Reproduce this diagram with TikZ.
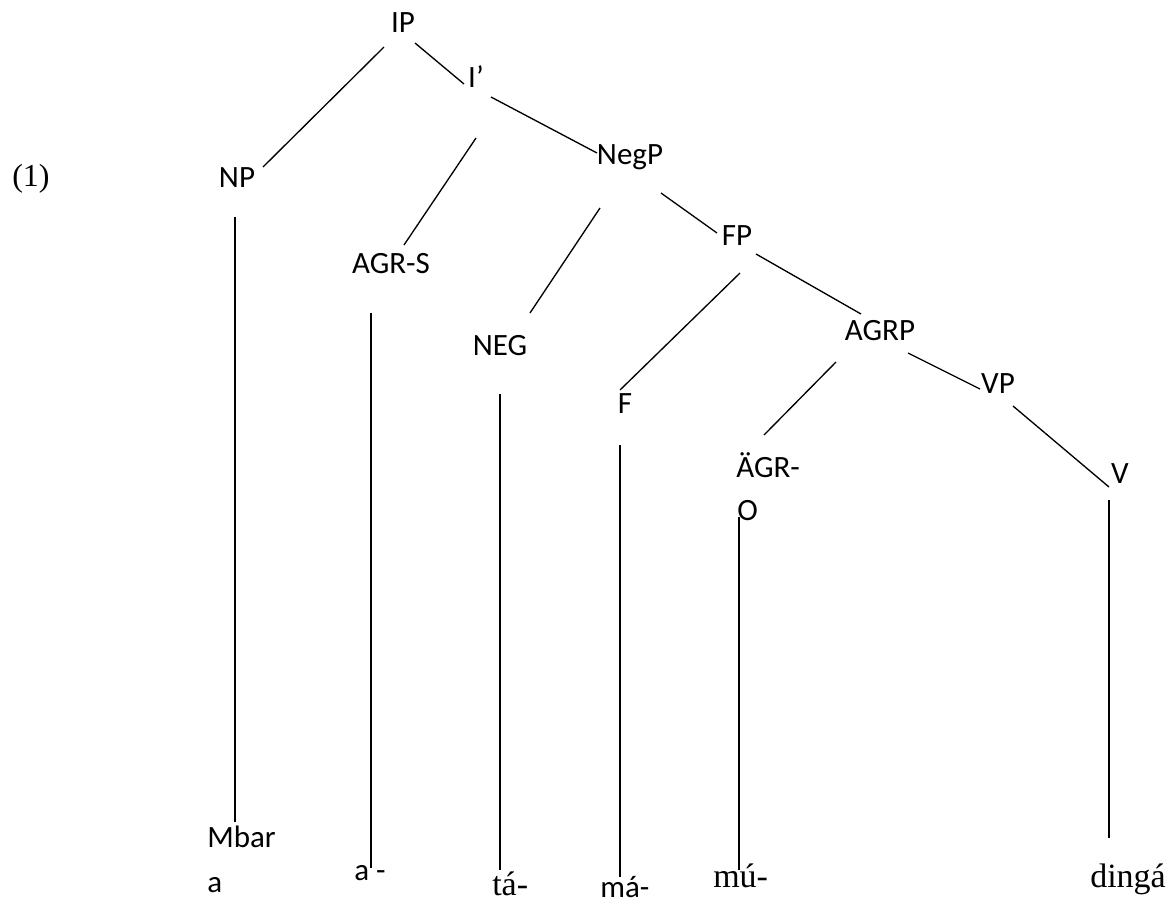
\documentclass[tikz,border=0pt]{standalone}
\usepackage{fontspec}
\setmainfont{Carlito}
\newfontfamily\tnr{Liberation Serif}
\begin{document}
\begin{tikzpicture}[x=0.75pt,y=-0.75pt,
  lab/.style={inner sep=0pt, anchor=base, font=\fontsize{23.25}{28}\selectfont},
  labw/.style={lab, anchor=base west},
  ser/.style={labw, font=\tnr\fontsize{25.5}{30}\selectfont},
  edge/.style={line width=1pt}]
\fill[white] (0,0) rectangle (1175,904);
\useasboundingbox (0,0) rectangle (1175,904);
% labels
\node[lab, font=\tnr\fontsize{24}{28}\selectfont] (ex) at (31,186) {(1)};
\node[lab] (IP) at (403,32) {IP};
\node[lab] (Ibar) at (476,87) {I’};
\node[lab] (NP) at (237,187) {NP};
\node[lab] (AGRS) at (391,273) {AGR-S};
\node[lab] (NegP) at (630,164) {NegP};
\node[lab] (FP) at (737,245) {FP};
\node[lab] (NEG) at (500,355) {NEG};
\node[lab] (AGRP) at (880,340) {AGRP};
\node[lab] (F) at (625,413) {F};
\node[lab] (VP) at (998,393) {VP};
\node[lab] (V) at (1120,483) {V};
\node[labw] (AGRO) at (736,477) {ÄGR-};
\node[labw] (AGROb) at (737,520) {O};
% words
\node[labw] (Mbar) at (207,847) {Mbar};
\node[labw] (Mbarb) at (207,892) {a};
\node[labw] (wa) at (354,880) {a -};
\node[ser] (wta) at (492,895) {tá-};
\node[labw] (wma) at (600,897) {má-};
\node[ser] (wmu) at (713,887) {mú-};
\node[ser] (wding) at (1090,887) {dingá};
% connector end points
\coordinate (IP-l) at (384,47);   \coordinate (NP-t) at (263,167);
\coordinate (IP-r) at (415,43);   \coordinate (Ibar-t) at (464,84);
\coordinate (Ibar-r) at (491,97); \coordinate (NegP-t) at (597,153);
\coordinate (Ibar-l) at (476,138);\coordinate (AGRS-t) at (404,245);
\coordinate (NP-b) at (235,217);  \coordinate (Mbar-t) at (235,822);
\coordinate (AGRS-b) at (371,313);\coordinate (wa-t) at (371,868);
\coordinate (NegP-l) at (600,208);\coordinate (NEG-t) at (530,313);
\coordinate (NegP-r) at (661,193);\coordinate (FP-t) at (717,233);
\coordinate (NEG-b) at (500,394); \coordinate (wta-t) at (500,870);
\coordinate (FP-l) at (740,273);  \coordinate (F-t) at (620,390);
\coordinate (FP-r) at (756,254);  \coordinate (AGRP-t) at (861,314);
\coordinate (F-b) at (620,445);   \coordinate (wma-t) at (620,877);
\coordinate (AGRP-l) at (836,362);\coordinate (AGRO-t) at (764,435);
\coordinate (AGRP-r) at (908,353);\coordinate (VP-t) at (980,389);
\coordinate (VP-r) at (1013,406); \coordinate (V-t) at (1109,487);
\coordinate (AGRO-b) at (739,517);\coordinate (wmu-t) at (739,870);
\coordinate (V-b) at (1109,500);  \coordinate (wding-t) at (1109,838);
% connectors
\draw[edge] (IP-l) -- (NP-t);
\draw[edge] (IP-r) -- (Ibar-t);
\draw[edge] (Ibar-r) -- (NegP-t);
\draw[edge] (Ibar-l) -- (AGRS-t);
\draw[edge] (NP-b) -- (Mbar-t);
\draw[edge] (AGRS-b) -- (wa-t);
\draw[edge] (NegP-l) -- (NEG-t);
\draw[edge] (NegP-r) -- (FP-t);
\draw[edge] (NEG-b) -- (wta-t);
\draw[edge] (FP-l) -- (F-t);
\draw[edge] (FP-r) -- (AGRP-t);
\draw[edge] (F-b) -- (wma-t);
\draw[edge] (AGRP-l) -- (AGRO-t);
\draw[edge] (AGRP-r) -- (VP-t);
\draw[edge] (VP-r) -- (V-t);
\draw[edge] (AGRO-b) -- (wmu-t);
\draw[edge] (V-b) -- (wding-t);
\end{tikzpicture}
\end{document}
